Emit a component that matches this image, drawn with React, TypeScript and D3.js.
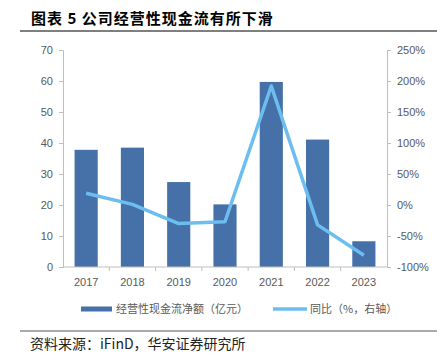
import { useEffect, useRef } from 'react';
import * as d3 from 'd3';

const years = ['2017', '2018', '2019', '2020', '2021', '2022', '2023'];
const cashFlow = [37.8, 38.5, 27.4, 20.2, 59.7, 41.1, 8.3];
const yoy = [19, 1, -30, -27, 192, -32, -81];
const leftTicks = [0, 10, 20, 30, 40, 50, 60, 70];
const rightTicks = [-100, -50, 0, 50, 100, 150, 200, 250];

const W = 437;
const H = 354;
const CJK = '"Noto Sans CJK SC", sans-serif';
const LAT = '"Liberation Sans", Arial, sans-serif';

export default function App() {
    const svgRef = useRef<SVGSVGElement>(null);

    useEffect(() => {
        if (!svgRef.current) return;
        const svg = d3.select(svgRef.current);
        svg.selectAll('*').remove();

        const left = 63, right = 387, top = 50, bottom = 267;

        const x = d3.scaleBand().domain(years).range([left, right]).paddingInner(0.5).paddingOuter(0.25);
        const yL = d3.scaleLinear().domain([0, 70]).range([bottom, top]);
        const yR = d3.scaleLinear().domain([-100, 250]).range([bottom, top]);

        // Title
        svg.append('text')
            .attr('x', 31).attr('y', 24)
            .attr('font-family', CJK).attr('font-weight', 'bold').attr('font-size', 15)
            .attr('letter-spacing', 1)
            .attr('fill', '#000')
            .text('图表 5 公司经营性现金流有所下滑');
        svg.append('line')
            .attr('x1', 20).attr('x2', W).attr('y1', 31).attr('y2', 31)
            .attr('stroke', '#555').attr('stroke-width', 1.5);

        const axisColor = '#bfbfbf';
        const tickColor = '#595959';

        // Left axis
        const gl = svg.append('g').attr('transform', `translate(${left},0)`)
            .call(d3.axisLeft(yL).tickValues(leftTicks).tickSize(4).tickSizeOuter(4).tickPadding(6));
        gl.selectAll('path, line').attr('stroke', axisColor);
        gl.selectAll('text').attr('font-family', LAT).attr('font-size', 11).attr('fill', tickColor);

        // Right axis
        const gr = svg.append('g').attr('transform', `translate(${right},0)`)
            .call(d3.axisRight(yR).tickValues(rightTicks).tickFormat(d => `${d}%`).tickSize(4).tickSizeOuter(4).tickPadding(6));
        gr.selectAll('path, line').attr('stroke', axisColor);
        gr.selectAll('text').attr('font-family', LAT).attr('font-size', 11).attr('fill', tickColor);

        // Bars
        svg.append('g').selectAll('rect')
            .data(cashFlow)
            .enter().append('rect')
            .attr('x', (_, i) => x(years[i])!)
            .attr('width', x.bandwidth())
            .attr('y', d => yL(d))
            .attr('height', d => bottom - yL(d))
            .attr('fill', '#4571a8');

        // X axis
        const step = x.step();
        svg.append('line')
            .attr('x1', left).attr('x2', right).attr('y1', bottom).attr('y2', bottom)
            .attr('stroke', axisColor);
        svg.append('g').selectAll('line')
            .data(years.slice(1))
            .enter().append('line')
            .attr('x1', (_, i) => x(years[i + 1])! - (step - x.bandwidth()) / 2)
            .attr('x2', (_, i) => x(years[i + 1])! - (step - x.bandwidth()) / 2)
            .attr('y1', bottom).attr('y2', bottom + 4)
            .attr('stroke', axisColor);
        svg.append('g').selectAll('text')
            .data(years)
            .enter().append('text')
            .attr('x', d => x(d)! + x.bandwidth() / 2)
            .attr('y', bottom + 19)
            .attr('text-anchor', 'middle')
            .attr('font-family', LAT).attr('font-size', 11).attr('fill', tickColor)
            .text(d => d);

        // Line
        const line = d3.line<number>()
            .x((_, i) => x(years[i])! + x.bandwidth() / 2)
            .y(d => yR(d));
        svg.append('path')
            .datum(yoy)
            .attr('d', line)
            .attr('fill', 'none')
            .attr('stroke', '#6cbdf0')
            .attr('stroke-width', 3.5)
            .attr('stroke-linejoin', 'round');

        // Legend
        const ly = 309;
        svg.append('rect').attr('x', 81).attr('y', ly - 2.5).attr('width', 31).attr('height', 5).attr('fill', '#4571a8');
        svg.append('text').attr('x', 116).attr('y', ly + 4)
            .attr('font-family', CJK).attr('font-size', 11).attr('fill', tickColor)
            .text('经营性现金流净额（亿元）');
        svg.append('line').attr('x1', 273).attr('x2', 307).attr('y1', ly).attr('y2', ly)
            .attr('stroke', '#6cbdf0').attr('stroke-width', 3.5);
        svg.append('text').attr('x', 310).attr('y', ly + 4)
            .attr('font-family', CJK).attr('font-size', 11).attr('fill', tickColor)
            .text('同比（%，右轴）');

        // Footer
        svg.append('line')
            .attr('x1', 20).attr('x2', W).attr('y1', 331).attr('y2', 331)
            .attr('stroke', '#555').attr('stroke-width', 1);
        svg.append('text').attr('x', 30).attr('y', 349)
            .attr('font-family', CJK).attr('font-size', 14).attr('fill', '#222')
            .text('资料来源：iFinD，华安证券研究所');
    }, []);

    return (
        <svg ref={svgRef} width={W} height={H}
            style={{ position: 'absolute', left: 0, top: 0, background: '#fff' }} />
    );
}
